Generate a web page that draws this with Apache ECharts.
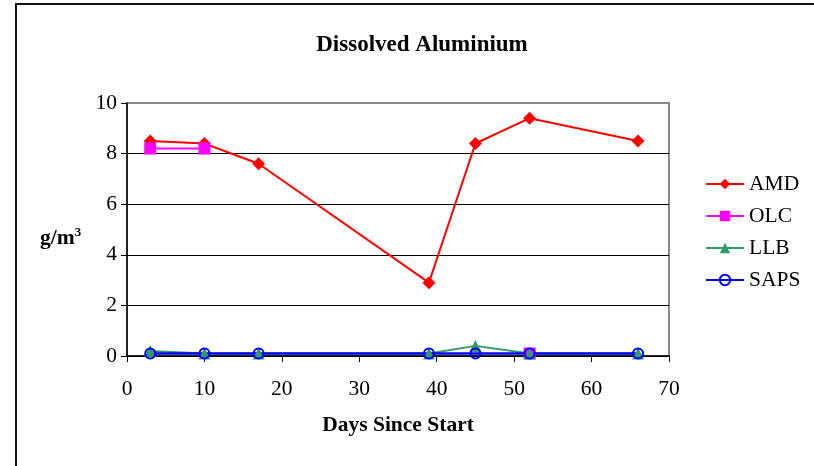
<!DOCTYPE html>
<html>
<head>
<meta charset="utf-8">
<script src="https://cdn.jsdelivr.net/npm/echarts@6/dist/echarts.min.js"></script>
<style>html,body{margin:0;padding:0;background:#fff}#c{width:814px;height:466px}</style>
</head>
<body>
<div id="c"></div>
<script>
var days = [3, 10, 17, 39, 45, 52, 66];
var amd  = [8.5, 8.4, 7.6, 2.9, 8.4, 9.4, 8.5];
var olc  = [8.2, 8.2, null, null, null, 0.1, null];
var llb  = [0.2, 0.1, 0.1, 0.1, 0.4, 0.1, 0.1];
var saps = [0.1, 0.1, 0.1, 0.1, 0.1, 0.1, 0.1];
var seriesNames = ['AMD', 'OLC', 'LLB', 'SAPS'];
var titleText = 'Dissolved Aluminium';
var xName = 'Days Since Start';

function pairs(v) { return days.map(function (d, i) { return [d, v[i]]; }); }
var F = 'Liberation Serif';
var FS = 21.5;
var chart = echarts.init(document.getElementById('c'));
chart.setOption({
  animation: false,
  backgroundColor: '#fff',
  title: { text: titleText, left: 417, top: 29, textAlign: 'center',
    textStyle: { fontFamily: F, fontSize: 23, fontWeight: 'bold', color: '#000' } },
  grid: { left: 127, right: 145, top: 103, bottom: 110, show: true, borderColor: '#888', borderWidth: 2, backgroundColor: 'transparent' },
  legend: {
    orient: 'vertical', left: 705, top: 173, padding: 0, itemWidth: 38, itemHeight: 13, itemGap: 10,
    textStyle: { fontFamily: F, fontSize: FS, color: '#000', lineHeight: 20, padding: [0, 0, 0, 0] },
    data: seriesNames
  },
  xAxis: {
    type: 'value', min: 0, max: 70, interval: 10,
    name: xName, nameLocation: 'middle', nameGap: 58,
    nameTextStyle: { fontFamily: F, fontSize: FS, fontWeight: 'bold', color: '#000' },
    axisLine: { show: true, onZero: false, lineStyle: { color: '#000', width: 1.5 } },
    axisTick: { show: true, inside: false, length: 6, lineStyle: { color: '#000' } },
    axisLabel: { fontFamily: F, fontSize: FS, color: '#000', margin: 22 },
    splitLine: { show: false }
  },
  yAxis: {
    type: 'value', min: 0, max: 10, interval: 2,
    axisLine: { show: true, lineStyle: { color: '#000', width: 1.5 } },
    axisTick: { show: true, inside: false, length: 6, lineStyle: { color: '#000' } },
    axisLabel: { fontFamily: F, fontSize: FS, color: '#000', margin: 10 },
    splitLine: { show: true, lineStyle: { color: ['#000', '#000', '#000', '#000', '#000', '#888'], width: 1 } }
  },
  graphic: [
    { type: 'rect', shape: { x: 16, y: 4, width: 1000, height: 1000 }, style: { fill: 'none', stroke: '#111', lineWidth: 2 }, z: 100 },
    { type: 'text', left: 40, top: 226, style: {
        text: '{a|g/m}{b|3}', rich: {
          a: { fontFamily: F, fontSize: FS, fontWeight: 'bold', fill: '#000' },
          b: { fontFamily: F, fontSize: 13, fontWeight: 'bold', fill: '#000', verticalAlign: 'top', padding: [0, 0, 12, 0] }
        } } }
  ],
  series: [
    { name: 'AMD', type: 'line', data: pairs(amd), symbol: 'diamond', symbolSize: 13,
      itemStyle: { color: '#ff0000' }, lineStyle: { color: '#ff0000', width: 2 } },
    { name: 'OLC', type: 'line', data: pairs(olc), symbol: 'rect', symbolSize: 12, connectNulls: false,
      itemStyle: { color: '#ff00ff' }, lineStyle: { color: '#ff00ff', width: 2 } },
    { name: 'LLB', type: 'line', data: pairs(llb), symbol: 'triangle', symbolSize: 12,
      itemStyle: { color: '#339966' }, lineStyle: { color: '#339966', width: 2 } },
    { name: 'SAPS', type: 'line', data: pairs(saps), symbol: 'circle', symbolSize: 10,
      itemStyle: { color: 'rgba(0,0,0,0)', borderWidth: 2, borderColor: '#0000ff' }, lineStyle: { color: '#0000ff', width: 2.5 } }
  ]
});
</script>
</body>
</html>
